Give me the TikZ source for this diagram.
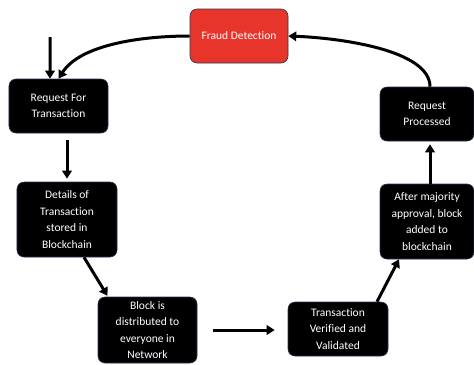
\documentclass[tikz,border=0pt]{standalone}
\usepackage{fontspec}
\setmainfont{Carlito}[Ligatures=NoCommon]
\usetikzlibrary{arrows.meta}
\definecolor{fraudred}{HTML}{E8352B}
\definecolor{edgeblue}{HTML}{2B3550}
\tikzset{
  box/.style={rectangle, rounded corners=7bp, fill=black, draw=edgeblue, line width=0.6bp,
    text=white, align=center, inner sep=0pt,
    font=\fontsize{11.5bp}{16.5bp}\selectfont},
  arr/.style={line width=3bp, -{Triangle[length=8bp,width=9.5bp]}},
}
\begin{document}
\begin{tikzpicture}[x=1bp,y=-1bp]
\useasboundingbox (0,0) rectangle (474,364);
\node[box, fill=fraudred, minimum width=98bp, minimum height=54bp] (fr) at (239,36) {Fraud Detection};
\node[box, minimum width=99bp, minimum height=54bp] (rft) at (58.5,106) {Request For\\Transaction};
\node[box, minimum width=94bp, minimum height=54bp] (rp) at (427,114) {Request\\Processed};
\node[box, minimum width=100bp, minimum height=75bp] (det) at (67,219.5) {Details of\\Transaction\\stored in\\Blockchain};
\node[box, minimum width=99bp, minimum height=66bp] (blk) at (147.5,330) {Block is\\distributed to\\everyone in\\Network};
\node[box, minimum width=100bp, minimum height=54bp] (tv) at (338,329) {Transaction\\Verified and\\Validated};
\node[box, minimum width=94bp, minimum height=75bp] (am) at (427,221.5) {After majority\\approval, block\\added to\\blockchain};
\coordinate (in) at (50,37);
\draw[arr] (in) -- ([xshift=-8.5bp]rft.north);
\draw[arr] (fr.west) .. controls (140,36) and (80,45) .. (rft.north);
\draw[arr, shorten <=7bp, shorten >=3bp] (det.north |- rft.south) -- (det.north);
\draw[arr, shorten >=1bp] ([xshift=17bp]det.south) -- ([xshift=-39.5bp]blk.north);
\draw[arr, shorten <=16bp, shorten >=13bp] (blk.east) -- (tv.west |- blk.east);
\draw[arr] ([xshift=39bp]tv.north) -- ([xshift=-28bp]am.south);
\draw[arr, shorten >=3bp] ([xshift=3bp]am.north) -- ([xshift=3bp]rp.south);
\draw[arr] ([xshift=3bp]rp.north) .. controls (430,50) and (340,38) .. (fr.east);
\end{tikzpicture}
\end{document}
